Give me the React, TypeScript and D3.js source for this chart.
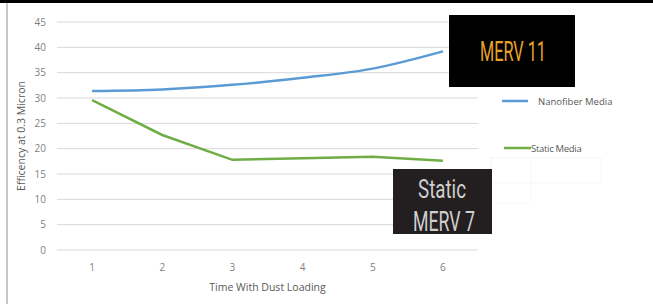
import React from 'react';
import * as d3 from 'd3';

const categories = ['1', '2', '3', '4', '5', '6'];
const nanofiber = [31.4, 31.7, 32.6, 34.0, 35.8, 39.2];
const staticMedia = [29.6, 22.7, 17.8, 18.1, 18.4, 17.6];
const yTicks = [0, 5, 10, 15, 20, 25, 30, 35, 40, 45];

const W = 653;
const H = 304;
const left = 57;
const right = 478;
const top = 22;
const bottom = 250;

export default function App() {
  const x = d3.scalePoint().domain(categories).range([left, right]).padding(0.5);
  const y = d3.scaleLinear().domain([0, 45]).range([bottom, top]);

  const blueLine = d3
    .line<number>()
    .x((d, i) => x(categories[i]) as number)
    .y((d) => y(d))
    .curve(d3.curveMonotoneX);
  const greenLine = d3
    .line<number>()
    .x((d, i) => x(categories[i]) as number)
    .y((d) => y(d));

  const font = "'Open Sans', 'Liberation Sans', sans-serif";
  const cond = "Roboto, 'DejaVu Sans', sans-serif";

  return (
    <svg
      width={W}
      height={H}
      style={{ position: 'absolute', left: 0, top: 0, background: '#fff' }}
    >
      <rect x={0} y={0} width={W} height={3} fill="#000" />
      <rect x={6} y={3} width={2} height={H - 3} fill="#c8c8c8" />

      {yTicks.map((t) => (
        <g key={t}>
          <line x1={left} x2={right} y1={y(t)} y2={y(t)} stroke="#d9d9d9" strokeWidth={1} />
          <text
            x={46}
            y={y(t) + 3.5}
            textAnchor="end"
            fontSize={10}
            fill="#7f7f7f"
            fontFamily={font}
          >
            {t}
          </text>
        </g>
      ))}

      {categories.map((c) => (
        <text
          key={c}
          x={x(c) as number}
          y={271}
          textAnchor="middle"
          fontSize={10}
          fill="#7f7f7f"
          fontFamily={font}
        >
          {c}
        </text>
      ))}

      <text
        x={(left + right) / 2}
        y={291}
        textAnchor="middle"
        fontSize={10.5}
        fill="#595959"
        fontFamily={font}
      >
        Time With Dust Loading
      </text>
      <text
        transform={`translate(25,136) rotate(-90)`}
        textAnchor="middle"
        fontSize={10.5}
        fill="#595959"
        fontFamily={font}
      >
        Efficency at 0.3 Micron
      </text>

      <path d={blueLine(nanofiber) || ''} fill="none" stroke="#5b9bd5" strokeWidth={2.5} />
      <path d={greenLine(staticMedia) || ''} fill="none" stroke="#70ad47" strokeWidth={2.5} />

      {/* legend */}
      <line x1={502} x2={528} y1={101} y2={101} stroke="#5b9bd5" strokeWidth={2.5} />
      <text x={538} y={104.5} fontSize={9.5} fill="#595959" fontFamily={font}>
        Nanofiber Media
      </text>
      <line x1={504} x2={531} y1={148} y2={148} stroke="#70ad47" strokeWidth={2.5} />
      <text x={531} y={151.5} fontSize={9.5} fill="#595959" fontFamily={font} letterSpacing={-0.3}>
        Static Media
      </text>
      <rect x={491} y={158} width={110} height={25} fill="none" stroke="#f2f2f2" strokeWidth={0.6} />
      <rect x={491} y={158} width={40} height={45} fill="none" stroke="#f4f4f4" strokeWidth={0.6} />

      {/* annotation boxes */}
      <rect x={449} y={15} width={126} height={72} fill="#000" />
      <text
        x={480}
        y={61}
        fontSize={27}
        fill="#e8a32a"
        fontFamily={cond}
        textLength={66}
        lengthAdjust="spacingAndGlyphs"
      >
        MERV 11
      </text>

      <rect x={393} y={169} width={99} height={65} fill="#231f20" />
      <text
        x={418}
        y={198}
        fontSize={26}
        fill="#cfcfcf"
        fontFamily={cond}
        textLength={48}
        lengthAdjust="spacingAndGlyphs"
      >
        Static
      </text>
      <text
        x={413}
        y={231}
        fontSize={27}
        fill="#cfcfcf"
        fontFamily={cond}
        textLength={62}
        lengthAdjust="spacingAndGlyphs"
      >
        MERV 7
      </text>
    </svg>
  );
}
